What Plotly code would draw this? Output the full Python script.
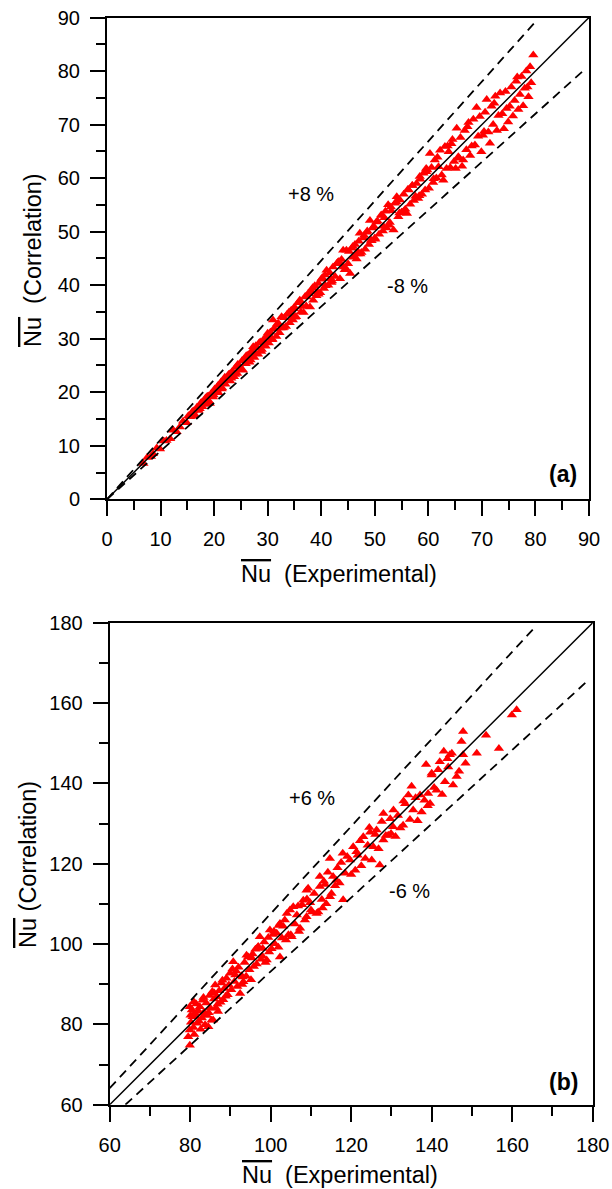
import plotly.graph_objects as go

W, H = 612, 1189

# ---------------- data (a) ----------------
exp_a = [6.8, 7.5, 8.2, 8.6, 9.3, 9.9, 10.6, 11.1, 11.8, 12.4, 13.0, 13.6, 14.2, 14.9, 15.5, 15.9,
         16.4, 16.8, 17.1, 17.5, 17.8, 18.2, 18.5, 18.9, 19.2, 19.5, 19.8, 20.1, 20.5, 20.8, 21.1, 21.5,
         21.8, 22.1, 22.3, 22.7, 23.0, 23.4, 23.7, 24.0, 24.3, 24.6, 25.0, 25.4, 25.6, 25.9, 26.3, 26.6,
         26.9, 27.3, 27.5, 27.9, 28.2, 28.6, 28.9, 29.2, 29.6, 29.9, 30.2,
         30.5, 30.8, 31.0, 31.3, 31.6, 31.9, 32.2, 32.6, 32.8, 33.1, 33.4, 33.8, 34.1, 34.4, 34.7, 35.0,
         35.3, 35.7, 36.0, 36.2, 36.7, 37.0, 37.3, 37.9, 38.2, 38.5, 38.8, 39.1, 39.5, 39.8, 40.2, 40.5,
         41.0, 41.3, 41.6, 42.0, 42.2, 42.6, 43.0, 43.5, 43.8, 44.1, 44.4, 44.7, 45.0, 45.4, 45.7,
         46.0, 46.3, 46.6, 47.0, 47.2, 47.5, 47.9, 48.2, 48.6, 48.9, 49.1, 49.4, 49.8, 50.1, 50.5, 50.8,
         51.2, 51.5, 51.8, 52.2, 52.5, 52.8, 53.1, 53.5, 53.8, 54.1, 54.4, 54.7, 55.1, 55.4, 55.7, 56.0,
         56.3, 56.6, 57.0, 57.3, 57.8, 58.1, 58.4, 58.8, 59.1, 59.4, 59.8,
         60.1, 60.3, 60.6, 60.9, 61.2, 61.5, 61.9, 62.2, 62.5, 62.8, 63.1, 63.4, 63.8, 64.1, 64.5, 64.8,
         65.1, 65.3, 65.6, 66.0, 66.3, 66.5, 66.8, 67.1, 67.5, 67.8, 68.1, 68.4, 68.7, 69.0, 69.3, 69.6,
         69.9, 70.2, 70.6, 70.9, 71.2, 71.5, 71.8, 72.1, 72.5, 72.8, 73.1, 73.4, 73.8, 74.1, 74.4, 74.9,
         75.2, 75.5, 75.8, 76.1, 76.4, 76.8, 77.1, 77.4, 77.7, 78.0, 78.3, 78.7, 79.0, 79.2, 79.6,
         20.3, 22.9, 24.8, 27.0, 29.4, 32.0, 34.9, 37.6, 40.8, 43.3, 46.8, 49.6, 52.0, 55.0, 58.5, 61.7, 64.3,
         16.1, 17.3, 18.7, 19.9, 21.3, 22.5, 23.9, 25.2, 26.1, 27.7, 28.4, 29.8, 31.1, 32.4, 33.6, 34.9,
         36.4, 37.7, 39.3, 40.0, 41.8, 42.9, 44.2, 45.2, 46.9, 48.0, 49.3, 50.3, 51.6, 53.0, 54.6, 56.2,
         57.6, 59.6, 61.0, 63.6, 65.8, 67.3, 70.4, 72.3, 74.6, 76.6, 78.5,
         15.2, 16.0, 17.6, 18.4, 19.0, 20.7, 21.4, 22.0, 23.2, 24.4, 25.1, 26.0, 26.8, 27.8, 28.8, 30.0,
         30.9, 31.8, 33.0, 34.0, 35.1, 36.0, 37.2, 38.4, 39.5, 40.7, 41.9, 43.1, 44.6, 45.9, 47.3, 48.5,
         50.0, 51.4, 52.7, 54.0, 55.5, 57.0, 58.3, 59.6]
corr_a = [6.7, 7.8, 8.0, 8.5, 9.6, 9.4, 10.9, 11.0, 11.3, 12.9, 12.6, 13.5, 14.6, 14.3, 15.4, 16.3,
          15.8, 17.2, 16.6, 17.9, 17.3, 18.5, 17.7, 19.3, 17.9, 19.8, 19.1, 20.6, 20.4, 19.9, 21.6, 20.8,
          22.3, 21.5, 22.2, 23.3, 22.1, 23.9, 22.9, 24.6, 23.5, 25.1, 24.2, 24.1, 26.2, 25.3, 26.9, 25.6,
          27.4, 28.5, 26.5, 28.3, 27.1, 29.4, 28.0, 29.8, 28.6, 30.6, 29.2,
          31.2, 29.8, 33.5, 31.8, 30.4, 32.6, 31.1, 34.1, 32.0, 33.9, 32.3, 34.6, 33.0, 35.3, 33.5, 35.9,
          34.1, 36.7, 37.2, 35.0, 34.9, 37.9, 37.8, 35.9, 38.9, 37.2, 39.9, 38.0, 40.3, 38.6, 41.4, 39.4,
          42.8, 40.0, 42.3, 40.8, 43.4, 41.6, 44.1, 41.2, 44.8, 46.5, 42.9, 46.5, 44.0, 42.2, 46.9,
          45.2, 47.6, 44.9, 48.2, 49.7, 46.1, 48.8, 46.7, 50.1, 47.6, 52.1, 48.3, 51.0, 48.6, 52.0, 49.5,
          53.1, 50.1, 52.6, 50.7, 55.0, 51.7, 53.9, 50.3, 55.3, 56.5, 52.8, 55.9, 53.6, 57.0, 54.2, 53.4,
          57.8, 55.1, 58.6, 55.8, 59.0, 56.2, 60.3, 57.0, 60.9, 57.8, 61.5,
          58.1, 64.6, 62.0, 59.2, 63.4, 60.0, 62.1, 65.2, 60.6, 59.6, 65.9, 61.8, 64.9, 62.0, 67.2, 63.1,
          61.8, 69.3, 64.0, 67.6, 62.2, 63.4, 68.9, 65.3, 70.4, 64.2, 66.0, 71.0, 66.2, 73.2, 67.8, 71.5,
          64.9, 68.0, 72.3, 74.7, 68.6, 66.5, 73.4, 70.0, 75.3, 68.9, 71.7, 75.9, 72.0, 69.2, 76.2, 70.5,
          73.4, 77.0, 71.6, 74.5, 78.1, 72.8, 75.6, 79.0, 73.5, 76.8, 80.0, 75.2, 80.8, 77.8, 83.0,
          20.0, 23.4, 24.3, 27.7, 28.8, 32.9, 34.1, 38.5, 39.9, 44.4, 45.8, 50.7, 53.8, 53.6, 59.8, 63.9, 66.4,
          16.5, 16.9, 19.2, 19.5, 21.9, 22.9, 23.3, 25.9, 26.6, 27.2, 29.2, 30.2, 31.8, 32.0, 34.5, 35.6,
          36.0, 38.4, 38.7, 41.1, 41.2, 44.0, 43.4, 46.3, 46.2, 49.3, 48.4, 51.8, 51.0, 54.6, 53.5, 57.9,
          56.6, 61.8, 59.9, 66.0, 63.7, 69.6, 68.7, 74.0, 73.0, 78.9, 77.0,
          15.6, 15.5, 18.1, 18.9, 18.4, 21.2, 20.6, 22.8, 22.6, 25.2, 24.3, 26.8, 26.0, 28.7, 27.6, 31.0,
          29.9, 32.8, 32.1, 35.0, 34.0, 37.1, 36.1, 39.5, 38.3, 41.9, 40.5, 44.3, 43.1, 47.2, 45.8, 49.9,
          48.8, 53.0, 51.2, 55.6, 53.9, 58.6, 56.7, 61.2]

# reference lines (a)
ref_a = [0, 90]
upper_a_x = [0, 80.1]
upper_a_y = [0, 89.3]
lower_a_x = [0, 89.2]
lower_a_y = [0, 80.3]

# ---------------- data (b) ----------------
exp_b = [79.9, 79.5, 79.9, 80.2, 80.4, 79.9, 80.6, 80.8, 81.0, 81.2, 81.5, 81.7, 82.0, 82.4, 82.6, 82.9,
         83.1, 83.4, 83.7, 84.0, 84.2, 84.5, 84.8, 85.0, 85.3, 85.7, 85.9, 86.2, 86.4, 86.6, 86.9, 87.2,
         87.5, 87.8, 88.2, 88.5,
         89.0, 89.3, 89.6, 89.9, 90.2, 90.7, 91.0, 91.4, 91.7, 92.0, 92.4, 92.7, 93.2, 93.5, 93.9, 94.4,
         94.7, 95.1, 95.5, 95.8, 96.2, 96.5, 96.9, 97.3, 97.6, 98.0, 98.4, 98.7, 99.0, 99.4, 99.8,
         100.2, 100.6, 101.0, 101.5, 101.9, 102.3, 102.3, 102.8, 103.1, 103.5, 104.0, 104.4, 104.8, 105.2,
         105.6, 106.0, 106.5, 107.0, 107.3, 107.8, 108.1, 108.5, 108.9, 108.9, 109.3, 109.8, 110.3, 110.8,
         111.4, 111.8, 112.2, 112.2, 112.7, 113.2, 113.8, 114.2, 114.7, 114.7, 115.1, 115.5, 116.0, 116.6,
         117.1, 117.5, 118.0, 118.5, 119.0, 119.7,
         120.5, 121.0, 121.6, 122.2, 122.5, 123.0, 123.5, 124.1, 124.7, 125.1, 125.5, 126.3, 126.8, 127.1,
         127.6, 128.0, 128.0, 128.6, 129.2, 129.7, 130.4, 130.5, 131.0, 131.6, 132.2, 132.9, 133.4, 134.2,
         134.6, 135.4, 136.0, 136.5, 137.1, 137.5, 138.2, 138.6, 139.1, 139.6, 140.0, 140.0,
         140.6, 141.2, 141.6, 142.0, 142.6, 143.3, 143.9, 144.1, 144.5, 145.0, 145.3, 146.2, 146.8, 147.4,
         147.8, 147.8, 148.4, 151.2, 153.5, 156.7, 159.9, 161.1,
         81.3, 83.8, 86.0, 88.8, 91.2, 93.0, 95.3, 97.9, 100.8, 103.8, 106.8, 110.0, 113.5, 116.3, 121.3, 126.0, 133.0,
         80.1, 80.9, 82.2, 83.3, 84.6, 85.5, 86.8, 88.0, 90.5, 92.9, 94.0, 96.7, 99.6, 102.0, 105.0, 109.0,
         112.9, 117.9, 120.0, 124.5, 129.9, 135.0, 139.0, 143.0]
corr_b = [74.8, 76.9, 78.6, 80.5, 83.6, 84.4, 81.9, 79.2, 77.5, 82.8, 85.1, 80.3, 83.4, 84.4, 78.8, 81.6,
          86.0, 83.0, 79.9, 85.3, 82.2, 79.4, 87.2, 84.0, 81.0, 81.1, 86.3, 89.8, 84.1, 86.9, 83.2, 88.4,
          85.5, 90.3, 86.1, 88.9,
          91.5, 87.4, 89.8, 92.7, 88.6, 95.6, 90.7, 93.3, 89.4, 94.2, 87.7, 92.1, 90.6, 95.4, 92.0, 96.8,
          93.6, 91.1, 97.5, 94.4, 98.7, 95.0, 99.4, 101.8, 96.2, 98.9, 100.5, 95.4, 96.0, 101.6, 103.5,
          98.8, 102.4, 100.1, 102.7, 99.2, 105.1, 96.8, 101.5, 104.4, 106.0, 107.6, 102.3, 108.5, 101.8,
          109.3, 105.0, 107.2, 103.1, 103.9, 109.8, 110.9, 106.0, 113.4, 106.8, 113.9, 110.3, 108.0, 112.6,
          107.6, 108.0, 116.8, 114.3, 111.1, 115.6, 110.0, 117.9, 121.3, 111.8, 112.6, 116.8, 114.5, 119.0,
          115.2, 120.3, 111.0, 117.6, 121.8, 120.9,
          124.2, 118.4, 122.1, 125.7, 119.5, 126.7, 121.3, 124.6, 127.8, 120.9, 124.2, 128.4, 123.7, 119.7,
          130.5, 132.5, 125.9, 127.0, 127.1, 131.2, 129.2, 133.4, 126.8, 132.0, 128.9, 129.6, 134.9, 137.1,
          131.0, 133.4, 136.4, 130.7, 137.1, 132.9, 135.8, 144.7, 137.5, 135.0, 142.1, 142.5,
          139.0, 138.3, 143.4, 145.4, 137.2, 140.4, 146.1, 144.1, 147.1, 147.5, 139.6, 141.7, 143.0, 150.4,
          152.9, 147.1, 145.0, 147.5, 152.0, 148.7, 157.0, 158.3,
          82.0, 82.5, 87.8, 87.0, 92.3, 91.8, 96.5, 97.0, 103.2, 101.0, 109.5, 108.5, 114.8, 115.9, 123.0, 127.3, 135.6,
          82.3, 85.6, 80.8, 86.7, 82.9, 88.2, 85.0, 91.0, 93.8, 89.9, 97.2, 99.1, 98.0, 104.6, 102.3, 111.2,
          109.0, 122.6, 117.3, 129.0, 127.5, 139.3, 134.4, 148.0]

ref_b = [60, 180]
upper_b_x = [60, 165.2]
upper_b_y = [64.1, 178.4]
lower_b_x = [63.9, 178.7]
lower_b_y = [60, 165.5]

FONT = "Liberation Sans, Arial, sans-serif"
RED = "#FF0000"

fig = go.Figure()

marker = dict(symbol="triangle-up", size=9, color=RED, line=dict(width=0))

fig.add_trace(go.Scatter(x=exp_a, y=corr_a, mode="markers", marker=marker,
                         xaxis="x", yaxis="y", showlegend=False))
fig.add_trace(go.Scatter(x=ref_a, y=ref_a, mode="lines", line=dict(color="black", width=1.5),
                         xaxis="x", yaxis="y", showlegend=False))
for xs, ys in [(upper_a_x, upper_a_y), (lower_a_x, lower_a_y)]:
    fig.add_trace(go.Scatter(x=xs, y=ys, mode="lines",
                             line=dict(color="black", width=1.8, dash="9px,6px"),
                             xaxis="x", yaxis="y", showlegend=False))

fig.add_trace(go.Scatter(x=exp_b, y=corr_b, mode="markers", marker=marker,
                         xaxis="x2", yaxis="y2", showlegend=False))
fig.add_trace(go.Scatter(x=ref_b, y=ref_b, mode="lines", line=dict(color="black", width=1.5),
                         xaxis="x2", yaxis="y2", showlegend=False))
for xs, ys in [(upper_b_x, upper_b_y), (lower_b_x, lower_b_y)]:
    fig.add_trace(go.Scatter(x=xs, y=ys, mode="lines",
                             line=dict(color="black", width=1.8, dash="9px,6px"),
                             xaxis="x2", yaxis="y2", showlegend=False))


def axis(rng, dtick, mdtick, domain, anchor, standoff):
    return dict(range=rng, dtick=dtick, tick0=rng[0], domain=domain, anchor=anchor,
                automargin=False,
                showline=True, linecolor="black", linewidth=2, mirror=True,
                ticks="outside", ticklen=15, tickwidth=2, tickcolor="black",
                minor=dict(ticks="outside", ticklen=9, tickwidth=2, tickcolor="black", dtick=mdtick),
                showgrid=False, zeroline=False, ticklabelstandoff=standoff,
                tickfont=dict(family=FONT, size=20, color="black"))


def px_x(p):
    return p / W


def px_y(p):
    return 1 - p / H


fig.update_layout(
    template="none",
    width=W, height=H, margin=dict(l=0, r=0, t=0, b=0, autoexpand=False),
    paper_bgcolor="white", plot_bgcolor="white",
    font=dict(family=FONT, color="black"),
    xaxis=axis([0, 90], 10, 5, [px_x(107), px_x(589)], "y", 6),
    yaxis=axis([0, 90], 10, 5, [px_y(499.3), px_y(17.5)], "x", 6),
    xaxis2=axis([60, 180], 20, 10, [px_x(109.7), px_x(592.7)], "y2", 6),
    yaxis2=axis([60, 180], 20, 10, [px_y(1104.7), px_y(622.7)], "x2", 6),
)

OL = '<span style="text-decoration:overline">Nu</span>'
ann = [
    (f"{OL}\u00a0\u00a0(Experimental)", 339, 574, 0, 23.5),
    (f"{OL}\u00a0\u00a0(Correlation)", 33, 260, -90, 23.5),
    (f"{OL}\u00a0\u00a0(Experimental)", 340, 1175, 0, 23.5),
    (f"{OL}\u00a0(Correlation)", 28, 865, -90, 23.5),
    ("+8 %", 311, 194, 0, 20),
    ("-8 %", 407, 286, 0, 20),
    ("+6 %", 312, 798, 0, 20),
    ("-6 %", 410, 891, 0, 20),
    ("<b>(a)</b>", 563, 474, 0, 23),
    ("<b>(b)</b>", 563, 1082, 0, 23),
]
for text, x, y, ang, size in ann:
    fig.add_annotation(text=text, x=px_x(x), y=px_y(y), xref="paper", yref="paper",
                       xanchor="center", yanchor="middle", showarrow=False, textangle=ang,
                       font=dict(family=FONT, size=size, color="black"))

fig.write_html("out.html")
